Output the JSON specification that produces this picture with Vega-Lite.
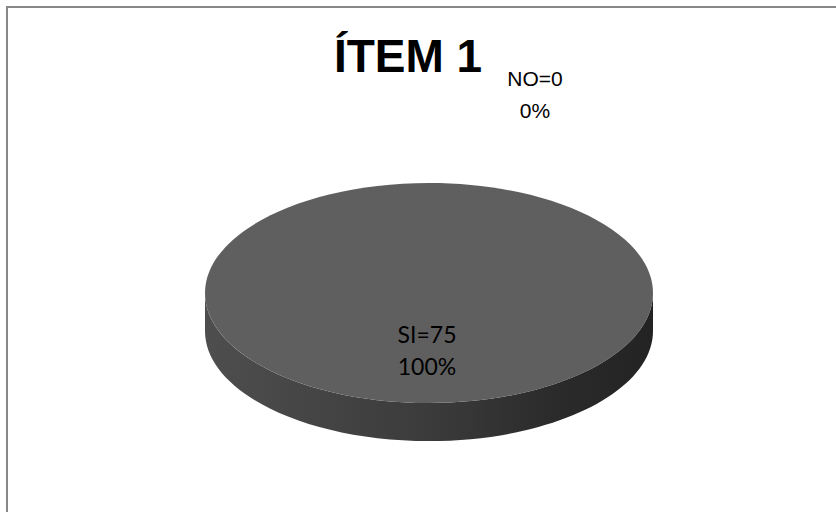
{
  "$schema": "https://vega.github.io/schema/vega-lite/v6.json",
  "width": 839,
  "height": 515,
  "autosize": {"type": "none"},
  "padding": {"left": 7, "top": 7, "right": -10, "bottom": -10},
  "background": "#ffffff",
  "view": {"stroke": "#888888", "strokeWidth": 2},
  "title": {
    "text": "ÍTEM 1",
    "font": "Liberation Sans",
    "fontSize": 46,
    "fontWeight": "bold",
    "color": "#000000",
    "anchor": "middle",
    "frame": "group",
    "baseline": "alphabetic",
    "offset": -111,
    "dx": -18.5
  },
  "data": {
    "values": [
      {"respuesta": "SI", "cantidad": 75, "porcentaje": 1, "etiqueta": "SI=75"},
      {"respuesta": "NO", "cantidad": 0, "porcentaje": 0, "etiqueta": "NO=0"}
    ]
  },
  "layer": [
    {
      "transform": [{"filter": "datum.cantidad > 0"}],
      "mark": {
        "type": "point",
        "filled": true,
        "opacity": 1,
        "size": 200704,
        "strokeWidth": 0,
        "xOffset": 2.5,
        "yOffset": 28.5,
        "shape": "M-1,0 L-1,0.17 A1,0.491 0 0 0 1,0.17 L1,0 A1,0.491 0 0 1 -1,0 Z",
        "fill": {
          "gradient": "linear",
          "x1": 0, "y1": 0, "x2": 1, "y2": 0,
          "stops": [
            {"offset": 0, "color": "#4e4e4e"},
            {"offset": 0.5, "color": "#3b3b3b"},
            {"offset": 0.8, "color": "#2a2a2a"},
            {"offset": 1, "color": "#232323"}
          ]
        }
      },
      "encoding": {}
    },
    {
      "transform": [{"filter": "datum.cantidad > 0"}],
      "mark": {
        "type": "point",
        "filled": true,
        "opacity": 1,
        "size": 200704,
        "strokeWidth": 0,
        "xOffset": 2.5,
        "yOffset": 28.5,
        "shape": "M-1,0 A1,0.491 0 1 1 1,0 A1,0.491 0 1 1 -1,0 Z",
        "fill": "#5f5f5f"
      },
      "encoding": {}
    },
    {
      "transform": [{"filter": "datum.cantidad > 0"}],
      "mark": {"type": "text", "font": "Lato", "fontSize": 23, "color": "#000000", "baseline": "alphabetic", "align": "center", "dx": 0.5, "dy": 78.5},
      "encoding": {"text": {"field": "etiqueta", "type": "nominal"}}
    },
    {
      "transform": [{"filter": "datum.cantidad > 0"}],
      "mark": {"type": "text", "font": "Lato", "fontSize": 23, "color": "#000000", "baseline": "alphabetic", "align": "center", "dx": 0.5, "dy": 110.5},
      "encoding": {"text": {"field": "porcentaje", "type": "quantitative", "format": ".0%"}}
    },
    {
      "transform": [{"filter": "datum.cantidad == 0"}],
      "mark": {"type": "text", "font": "Liberation Sans", "fontSize": 21, "color": "#000000", "baseline": "alphabetic", "align": "center", "dx": 108.5, "dy": -178.5},
      "encoding": {"text": {"field": "etiqueta", "type": "nominal"}}
    },
    {
      "transform": [{"filter": "datum.cantidad == 0"}],
      "mark": {"type": "text", "font": "Liberation Sans", "fontSize": 21, "color": "#000000", "baseline": "alphabetic", "align": "center", "dx": 108.5, "dy": -146.5},
      "encoding": {"text": {"field": "porcentaje", "type": "quantitative", "format": ".0%"}}
    }
  ]
}
